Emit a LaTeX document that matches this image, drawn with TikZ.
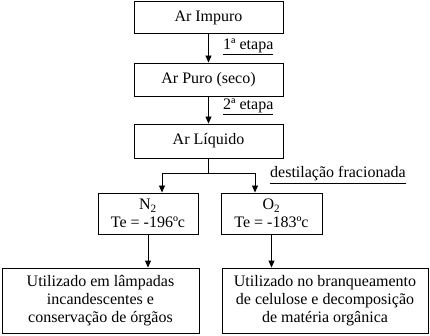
\documentclass[tikz,border=0pt]{standalone}
\usepackage{fontspec}
\setmainfont{Liberation Serif}
\usetikzlibrary{arrows.meta,positioning}
\begin{document}
\begin{tikzpicture}[x=1pt, y=-1pt,
    box/.style={draw, line width=0.9pt, inner sep=0pt, align=center,
        font=\fontsize{16}{18.3}\selectfont},
    flow/.style={-{Triangle[length=7pt,width=6pt]}, line width=0.9pt},
    etapa/.style={anchor=west, inner sep=0pt, font=\fontsize{16}{18.3}\selectfont}]
    % Bounding box
    \useasboundingbox (0,0) rectangle (430,336);

    % Main chain
    \node[box, minimum width=149pt, minimum height=32pt] (impuro) at (208.5,17.5) {Ar Impuro};
    \node[box, minimum width=149pt, minimum height=33pt] (puro) at (208.5,79.5) {Ar Puro (seco)};
    \node[box, minimum width=149pt, minimum height=34pt] (liquido) at (208.5,141) {Ar Líquido};

    % Fractions
    \node[box, minimum width=100pt, minimum height=41pt] (n2) at (148,213.5) {N\textsubscript{2}\\Te = -196ºc};
    \node[box, minimum width=101pt, minimum height=41pt] (o2) at (271.5,213.5) {O\textsubscript{2}\\Te = -183ºc};

    % Uses
    \node[box, minimum width=197pt, minimum height=65pt] (usoN) at (100.5,300.5)
        {Utilizado em lâmpadas\\incandescentes e\\conservação de órgãos};
    \node[box, minimum width=206pt, minimum height=65pt] (usoO) at (325,300.5)
        {Utilizado no branqueamento\\de celulose e decomposição\\de matéria orgânica};

    % Steps
    \draw[flow] (impuro) -- (puro);
    \draw[flow] (puro) -- (liquido);
    \node[etapa] (etapa1) at (223,47) {\underline{1ª etapa}};
    \node[etapa] (etapa2) at (223,107) {\underline{2ª etapa}};

    % Split
    \coordinate (split) at (208.5,173);
    \coordinate (splitN) at (162,173);
    \coordinate (splitO) at (255,173);
    \draw[line width=0.9pt] (liquido.south) -- (split);
    \draw[line width=0.9pt] (splitN) -- (splitO);
    \draw[flow] (splitN) -- (splitN |- n2.north);
    \draw[flow] (splitO) -- (splitO |- o2.north);
    \node[etapa] (destilacao) at (270,175) {\underline{destilação fracionada}};

    % Uses arrows
    \draw[flow] (n2) -- (n2 |- usoN.north);
    \draw[flow] (o2) -- (o2 |- usoO.north);
\end{tikzpicture}
\end{document}
